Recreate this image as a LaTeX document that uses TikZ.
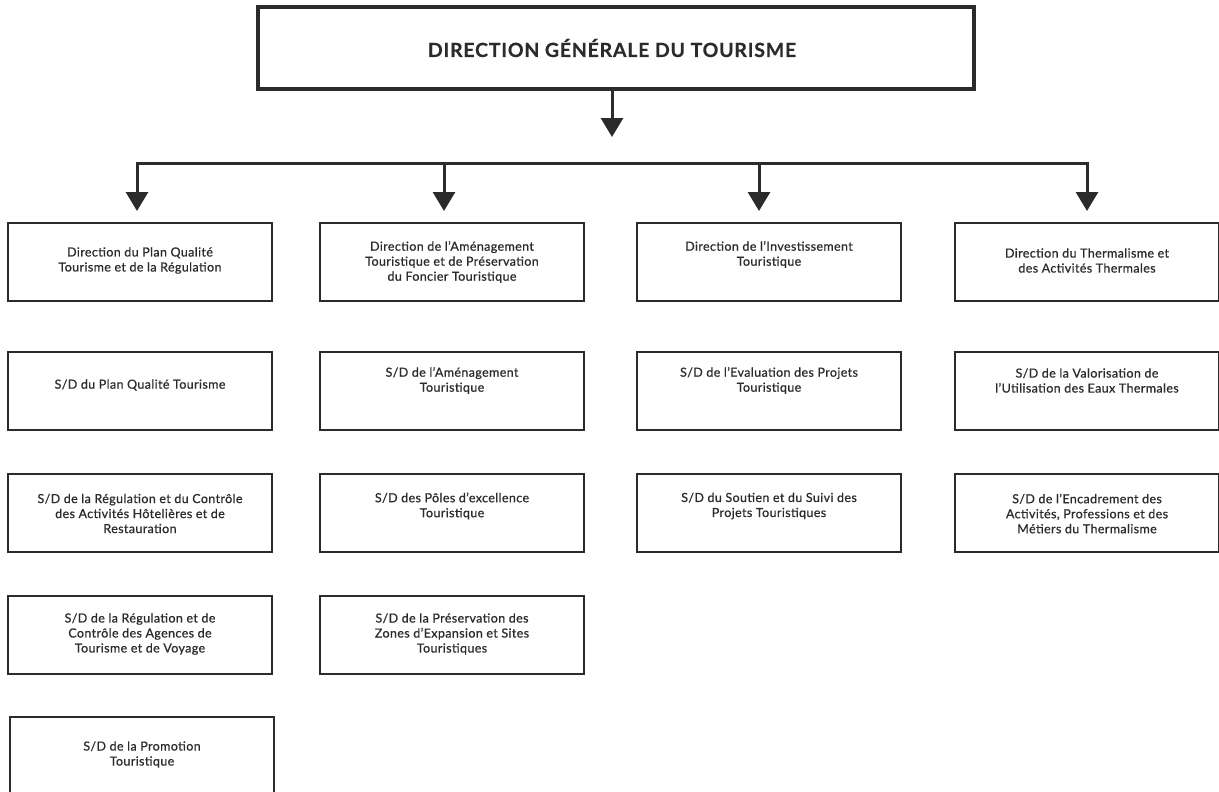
\documentclass[tikz,border=0pt]{standalone}
\usepackage{fontspec}
\setmainfont{Lato}
\newfontfamily\boxfont{Lato}[Ligatures=TeX, LetterSpace=3, FakeBold=0.7]
\newfontfamily\titlefont{Lato Bold}[Ligatures=TeX, LetterSpace=4, FakeBold=0.5]
\usetikzlibrary{arrows.meta}
\definecolor{ink}{HTML}{2B2B2B}
\newcommand\orgbox[5]{% name, cx, cy, text cy, text
  \node[box] (#1) at (#2,#3) {};
  \node[txt] (#1t) at (#2,#4) {#5};}
\begin{document}
\begin{tikzpicture}[x=1pt,y=-1pt,
  box/.style={draw=ink, line width=2pt, minimum width=264pt, minimum height=78pt, inner sep=0pt},
  txt/.style={align=center, text=ink, font=\boxfont\fontsize{12.5}{15}\selectfont, inner sep=0pt},
  conn/.style={draw=ink, line width=3pt},
  arr/.style={conn, -{Triangle[width=22pt,length=19pt]}}]
\useasboundingbox (0,0) rectangle (1219,792);
% top box
\node[draw=ink, line width=4pt, minimum width=716pt, minimum height=82pt, inner sep=0pt] (dg) at (616,48) {};
\node[text=ink, font=\titlefont\fontsize{19.5}{21}\selectfont, inner sep=0pt] (dgt) at (612,48) {DIRECTION GÉNÉRALE DU TOURISME};
% connectors
\coordinate (m1) at (612,137);
\coordinate (hL) at (137,163);
\coordinate (hR) at (1087,163);
\coordinate (h2) at (444,163);
\coordinate (h3) at (759,163);
\coordinate (t1) at (137,211);
\coordinate (t2) at (444,211);
\coordinate (t3) at (759,211);
\coordinate (t4) at (1087,211);
\draw[arr] ([xshift=-4pt]dg.south) -- (m1);
\draw[conn, line cap=rect] (hL) -- (hR);
\draw[arr] (hL) -- (t1);
\draw[arr] (h2) -- (t2);
\draw[arr] (h3) -- (t3);
\draw[arr] (hR) -- (t4);
% column 1
\orgbox{a1}{140}{261.5}{260.5}{Direction du Plan Qualité\\Tourisme et de la Régulation}
\orgbox{a2}{140}{391}{385}{S/D du Plan Qualité Tourisme}
\orgbox{a3}{140}{513}{513.5}{S/D de la Régulation et du Contrôle\\des Activités Hôtelières et de\\Restauration}
\orgbox{a4}{140}{635}{634}{S/D de la Régulation et de\\Contrôle des Agences de\\Tourisme et de Voyage}
\orgbox{a5}{142}{756}{754.5}{S/D de la Promotion\\Touristique}
% column 2
\orgbox{b1}{452}{261.5}{262}{Direction de l’Aménagement\\Touristique et de Préservation\\du Foncier Touristique}
\orgbox{b2}{452}{391}{380.5}{S/D de l’Aménagement\\Touristique}
\orgbox{b3}{452}{513}{506}{S/D des Pôles d’excellence\\Touristique}
\orgbox{b4}{452}{635}{634}{S/D de la Préservation des\\Zones d’Expansion et Sites\\Touristiques}
% column 3
\orgbox{c1}{769}{261.5}{254.5}{Direction de l’Investissement\\Touristique}
\orgbox{c2}{769}{391}{380.5}{S/D de l’Evaluation des Projets\\Touristique}
\orgbox{c3}{769}{513}{506}{S/D du Soutien et du Suivi des\\Projets Touristiques}
% column 4
\orgbox{d1}{1087}{261.5}{260.5}{Direction du Thermalisme et\\des Activités Thermales}
\orgbox{d2}{1087}{391}{380.5}{S/D de la Valorisation de\\l’Utilisation des Eaux Thermales}
\orgbox{d3}{1087}{513}{513.5}{S/D de l’Encadrement des\\Activités, Professions et des\\Métiers du Thermalisme}
\end{tikzpicture}
\end{document}
